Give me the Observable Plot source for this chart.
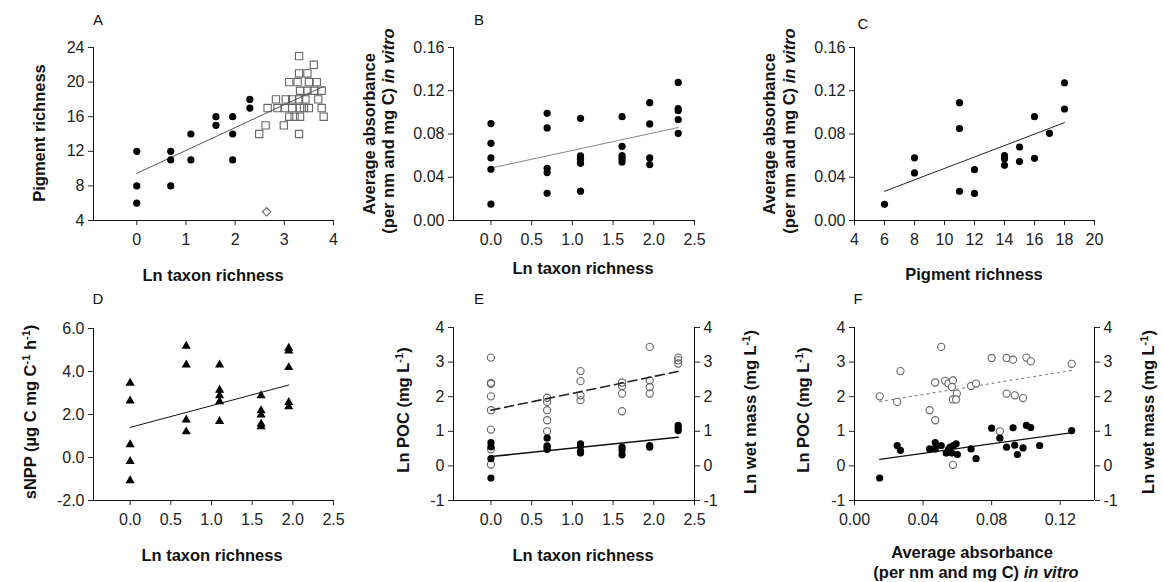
<!DOCTYPE html>
<html><head><meta charset="utf-8">
<script src="https://cdn.jsdelivr.net/npm/d3@7"></script>
<script src="https://cdn.jsdelivr.net/npm/@observablehq/plot@0.6"></script>
<style>
body{margin:0;background:#fff;}
#fig{position:relative;width:1163px;height:582px;overflow:hidden;font-family:"Liberation Sans",Arial,sans-serif;}
</style></head><body><div id="fig"></div>
<script>
// ---------- DATA ----------
// Panel A: Ln taxon richness vs pigment richness
const aCircX = [0,0,0, 0.69,0.69,0.69, 1.1,1.1, 1.61,1.61, 1.95,1.95,1.95, 2.3,2.3];
const aCircY = [12,8,6, 12,11,8, 14,11, 16,15, 16,14,11, 18,17];
const aSqX = [3.30, 3.60, 3.30,3.47, 3.10,3.27,3.50,3.66, 3.32,3.47,3.60,3.76,
  2.83,3.03,3.16,3.30,3.43,3.69, 2.66,2.86,3.01,3.16,3.32,3.40,3.50,3.76,
  3.10,3.21,3.32,3.80, 2.62,2.99, 2.49,3.30];
const aSqY = [23, 22, 21,21, 20,20,20,20, 19,19,19,19,
  18,18,18,18,18,18, 17,17,17,17,17,17,17,17,
  16,16,16,16, 15,15, 14,14];
const aDiaX = [2.64], aDiaY = [5];
const aFitX = [0, 3.8], aFitY = [9.45, 19.5];

// Panel B: Ln taxon richness vs average absorbance
const bX = [0,0,0,0,0, 0.69,0.69,0.69,0.69,0.69, 1.1,1.1,1.1,1.1,1.1, 1.61,1.61,1.61,1.61,1.61, 1.95,1.95,1.95,1.95, 2.3,2.3,2.3,2.3,2.3];
const bY = [0.0896,0.0714,0.0579,0.0474,0.0151, 0.0991,0.0856,0.0483,0.0443,0.0252, 0.0945,0.0597,0.0566,0.0529,0.0271,
  0.096,0.0686,0.060,0.0572,0.0542, 0.109,0.0893,0.0579,0.0517, 0.1277,0.1034,0.1016,0.0933,0.0806];
const bFitX = [0, 2.3], bFitY = [0.0485, 0.086];

// Panel C: pigment richness vs average absorbance
const cX = [6, 8,8, 11,11,11, 12,12, 14,14,14, 15,15, 16,16, 17, 18,18];
const cY = [0.015, 0.058,0.044, 0.109,0.085,0.027, 0.047,0.025, 0.060,0.057,0.051, 0.068,0.0545, 0.096,0.0575, 0.0806, 0.1274,0.1031];
const cFitX = [6, 18], cFitY = [0.027, 0.0905];

// Panel D: Ln taxon richness vs sNPP
const dX = [0,0,0,0,0, 0.69,0.69,0.69,0.69, 1.1,1.1,1.1,1.1,1.1, 1.61,1.61,1.61,1.61,1.61, 1.95,1.95,1.95,1.95,1.95];
const dY = [3.46,2.64,0.60,-0.18,-1.07, 5.18,4.31,1.75,1.20, 4.31,3.14,2.88,2.60,1.68, 2.88,2.18,1.98,1.56,1.44, 5.09,4.96,4.19,2.57,2.37];
const dFitX = [0, 1.95], dFitY = [1.40, 3.37];

// Panel E: Ln taxon richness vs Ln POC (filled) and Ln wet mass (open)
const eOpenX = [0,0,0,0,0,0,0,0, 0.69,0.69,0.69,0.69,0.69, 1.1,1.1,1.1,1.1, 1.61,1.61,1.61,1.61, 1.95,1.95,1.95,1.95, 2.3,2.3,2.3];
const eOpenY = [3.13,2.40,2.37,2.01,1.61,1.05,0.48,0.04, 1.97,1.85,1.61,1.32,1.00, 2.74,2.45,2.04,1.90, 2.41,2.31,2.09,1.58, 3.44,2.47,2.28,2.09, 3.13,3.05,2.96];
const eFillX = [0,0,0,0, 0.69,0.69,0.69,0.69, 1.1,1.1,1.1,1.1, 1.61,1.61,1.61, 1.95,1.95, 2.3,2.3,2.3];
const eFillY = [0.67,0.55,0.21,-0.35, 0.80,0.58,0.54,0.48, 0.64,0.56,0.42,0.37, 0.54,0.45,0.32, 0.59,0.54, 1.17,1.09,1.02];
const eWetFitX = [0, 2.3], eWetFitY = [1.61, 2.73];
const ePocFitX = [0, 2.3], ePocFitY = [0.27, 0.83];

// Panel F: average absorbance vs Ln POC (filled) and Ln wet mass (open)
const fOpenX = [0.0147,0.0249,0.0268,0.0506,0.0471,0.0529,0.0548,0.0574,0.0568,0.0597,0.0574,0.0593,0.0438,0.0471,
  0.068,0.0709,0.080,0.0887,0.0925,0.1003,0.1028,0.1267,0.0848,0.0574,0.0887,0.0935,0.0983];
const fOpenY = [2.01,1.85,2.74,3.44,2.41,2.46,2.38,2.47,2.28,2.09,1.92,1.92,1.61,1.32,
  2.31,2.38,3.12,3.12,3.07,3.13,3.02,2.95,1.00,0.03,2.09,2.04,1.96];
const fFillX = [0.0147,0.0249,0.0268,0.0438,0.0471,0.0471,0.0506,0.0535,0.0548,0.0558,0.0577,0.0593,0.0568,0.060,
  0.068,0.0709,0.080,0.0848,0.0887,0.0925,0.0935,0.095,0.0983,0.1003,0.1028,0.108,0.1267];
const fFillY = [-0.35,0.59,0.45,0.49,0.49,0.67,0.59,0.37,0.48,0.54,0.59,0.64,0.37,0.33,
  0.49,0.21,1.09,0.80,0.54,1.10,0.60,0.33,0.52,1.17,1.11,0.59,1.02];
const fWetFitX = [0.0147, 0.127], fWetFitY = [1.86, 2.76];
const fPocFitX = [0.0147, 0.127], fPocFitY = [0.19, 0.96];

// Tick values
const ticksA_x = [0,1,2,3,4], ticksA_y = [4,8,12,16,20,24];
const ticksLn = [0,0.5,1,1.5,2,2.5];
const ticksAbs = [0,0.04,0.08,0.12,0.16];
const ticksC_x = [4,6,8,10,12,14,16,18,20];
const ticksD_y = [-2,0,2,4,6];
const ticksE_y = [-1,0,1,2,3,4];
const ticksF_x = [0,0.04,0.08,0.12];

// ---------- DRAWING ----------
const pts = (xs, ys) => xs.map((x, i) => ({x, y: ys[i]}));
const fig = document.getElementById("fig");
const FONT = '"Liberation Sans", Arial, sans-serif';
const diamondSym = d3.symbolDiamond2 || d3.symbolDiamond;

function panel({frame, x, y, xTicks, yTicks, xFmt, yFmt, right, marks}) {
  const mL = 70, mR = 60, mT = 20, mB = 45;
  const [L, T, R, B] = frame;
  const p = Plot.plot({
    width: R - L + mL + mR, height: B - T + mT + mB,
    marginLeft: mL, marginRight: mR, marginTop: mT, marginBottom: mB,
    style: {background: "transparent", overflow: "visible", fontFamily: FONT, fontSize: "16px", color: "#222"},
    x: {domain: x}, y: {domain: y},
    marks: [
      Plot.axisX({ticks: xTicks, tickFormat: xFmt, tickSize: 5, tickPadding: 8, label: null}),
      Plot.axisY({ticks: yTicks, tickFormat: yFmt, tickSize: 5, tickPadding: 4, label: null}),
      right ? Plot.axisY({anchor: "right", ticks: yTicks, tickFormat: yFmt, tickSize: 5, tickPadding: 4, label: null}) : null,
      Plot.ruleY([y[0]], {stroke: "#111"}),
      Plot.ruleX([x[0]], {stroke: "#111"}),
      right ? Plot.ruleX([x[1]], {stroke: "#111"}) : null,
      ...marks
    ]
  });
  p.style.position = "absolute";
  p.style.left = (L - mL) + "px";
  p.style.top = (T - mT) + "px";
  p.style.maxWidth = "none";
  fig.append(p);
}

const fmtInt = d => String(d);
const fmt1 = d => d.toFixed(1);
const fmt2 = d => d.toFixed(2);

const filled = (xs, ys, sym = "circle", r = 3.6) => Plot.dot(pts(xs, ys), {x: "x", y: "y", r, fill: "#000", stroke: "none", symbol: sym});
const open = (xs, ys, sym = "circle", r = 3.6) => Plot.dot(pts(xs, ys), {x: "x", y: "y", r, fill: "none", stroke: "#666", strokeWidth: 1.1, symbol: sym});
const fit = (xs, ys, opts) => Plot.line(pts(xs, ys), {x: "x", y: "y", ...opts});

// A
panel({frame: [93, 47, 333, 220], x: [-0.88, 4], y: [4, 24], xTicks: ticksA_x, yTicks: ticksA_y, xFmt: fmtInt, yFmt: fmtInt,
  marks: [
    open(aSqX, aSqY, "square", 4.1),
    open(aDiaX, aDiaY, diamondSym, 3.8),
    fit(aFitX, aFitY, {stroke: "#555", strokeWidth: 1}),
    filled(aCircX, aCircY)
  ]});
// B
panel({frame: [453, 47, 694, 220], x: [-0.46, 2.5], y: [0, 0.16], xTicks: ticksLn, yTicks: ticksAbs, xFmt: fmt1, yFmt: fmt2,
  marks: [
    fit(bFitX, bFitY, {stroke: "#888", strokeWidth: 1}),
    filled(bX, bY)
  ]});
// C
panel({frame: [854, 47, 1094, 220], x: [4, 20], y: [0, 0.16], xTicks: ticksC_x, yTicks: ticksAbs, xFmt: fmtInt, yFmt: fmt2,
  marks: [
    fit(cFitX, cFitY, {stroke: "#222", strokeWidth: 1}),
    filled(cX, cY)
  ]});
// D
panel({frame: [93, 328, 333, 500], x: [-0.45, 2.5], y: [-2, 6], xTicks: ticksLn, yTicks: ticksD_y, xFmt: fmt1, yFmt: fmt1,
  marks: [
    fit(dFitX, dFitY, {stroke: "#111", strokeWidth: 1}),
    filled(dX, dY, "triangle", 3.4)
  ]});
// E
panel({frame: [453, 327, 694, 500], x: [-0.46, 2.5], y: [-1, 4], xTicks: ticksLn, yTicks: ticksE_y, xFmt: fmt1, yFmt: fmtInt, right: true,
  marks: [
    open(eOpenX, eOpenY),
    fit(eWetFitX, eWetFitY, {stroke: "#222", strokeWidth: 1.6, strokeDasharray: "9,5"}),
    fit(ePocFitX, ePocFitY, {stroke: "#111", strokeWidth: 1.6}),
    filled(eFillX, eFillY)
  ]});
// F
panel({frame: [854, 327, 1094, 500], x: [0, 0.14], y: [-1, 4], xTicks: ticksF_x, yTicks: ticksE_y, xFmt: fmt2, yFmt: fmtInt, right: true,
  marks: [
    fit(fWetFitX, fWetFitY, {stroke: "#888", strokeWidth: 1.2, strokeDasharray: "2,4"}),
    fit(fPocFitX, fPocFitY, {stroke: "#111", strokeWidth: 1.2}),
    Plot.dot(pts(fOpenX, fOpenY), {x: "x", y: "y", r: 3.6, fill: "white", stroke: "#666", strokeWidth: 1.1}),
    filled(fFillX, fFillY)
  ]});

// ---------- TEXT LABELS ----------
const ov = d3.select(fig).append("svg")
  .attr("width", 1163).attr("height", 582)
  .style("position", "absolute").style("left", 0).style("top", 0)
  .style("pointer-events", "none")
  .attr("font-family", FONT).attr("fill", "#111");

function letter(t, x, y) {
  ov.append("text").attr("x", x).attr("y", y).attr("text-anchor", "middle").attr("font-size", 15).text(t);
}
letter("A", 98, 25); letter("B", 479, 25); letter("C", 863, 29);
letter("D", 98, 304); letter("E", 479, 304); letter("F", 858, 304);

// parts: array of [text, style] where style in {"", "i", "sup"}
function label(parts, x, y, rotate) {
  const t = ov.append("text")
    .attr("text-anchor", "middle").attr("font-size", 16.5).attr("font-weight", "bold")
    .attr("transform", rotate ? `translate(${x},${y}) rotate(-90)` : `translate(${x},${y})`)
    .attr("dy", "0.36em");
  for (const [s, st] of parts) {
    const ts = t.append("tspan").text(s);
    if (st === "i") ts.attr("font-style", "italic");
    if (st === "sup") ts.attr("baseline-shift", "super").attr("font-size", 11);
  }
}
// A
label([["Pigment richness", ""]], 39, 133, true);
label([["Ln taxon richness", ""]], 213, 275, false);
// B
label([["Average absorbance", ""]], 369, 134, true);
label([["(per nm and mg C) ", ""], ["in vitro", "i"]], 388, 131, true);
label([["Ln taxon richness", ""]], 583, 268, false);
// C
label([["Average absorbance", ""]], 769, 134, true);
label([["(per nm and mg C) ", ""], ["in vitro", "i"]], 789, 131, true);
label([["Pigment richness", ""]], 974, 274, false);
// D
label([["sNPP (µg C mg C", ""], ["-1", "sup"], [" h", ""], ["-1", "sup"], [")", ""]], 30, 412, true);
label([["Ln taxon richness", ""]], 212, 555, false);
// E
label([["Ln POC (mg L", ""], ["-1", "sup"], [")", ""]], 403, 410, true);
label([["Ln wet mass (mg L", ""], ["-1", "sup"], [")", ""]], 750, 412, true);
label([["Ln taxon richness", ""]], 583, 555, false);
// F
label([["Ln POC (mg L", ""], ["-1", "sup"], [")", ""]], 803, 410, true);
label([["Ln wet mass (mg L", ""], ["-1", "sup"], [")", ""]], 1148, 412, true);
label([["Average absorbance", ""]], 972, 552, false);
label([["(per nm and mg C) ", ""], ["in vitro", "i"]], 976, 572, false);
</script></body></html>
